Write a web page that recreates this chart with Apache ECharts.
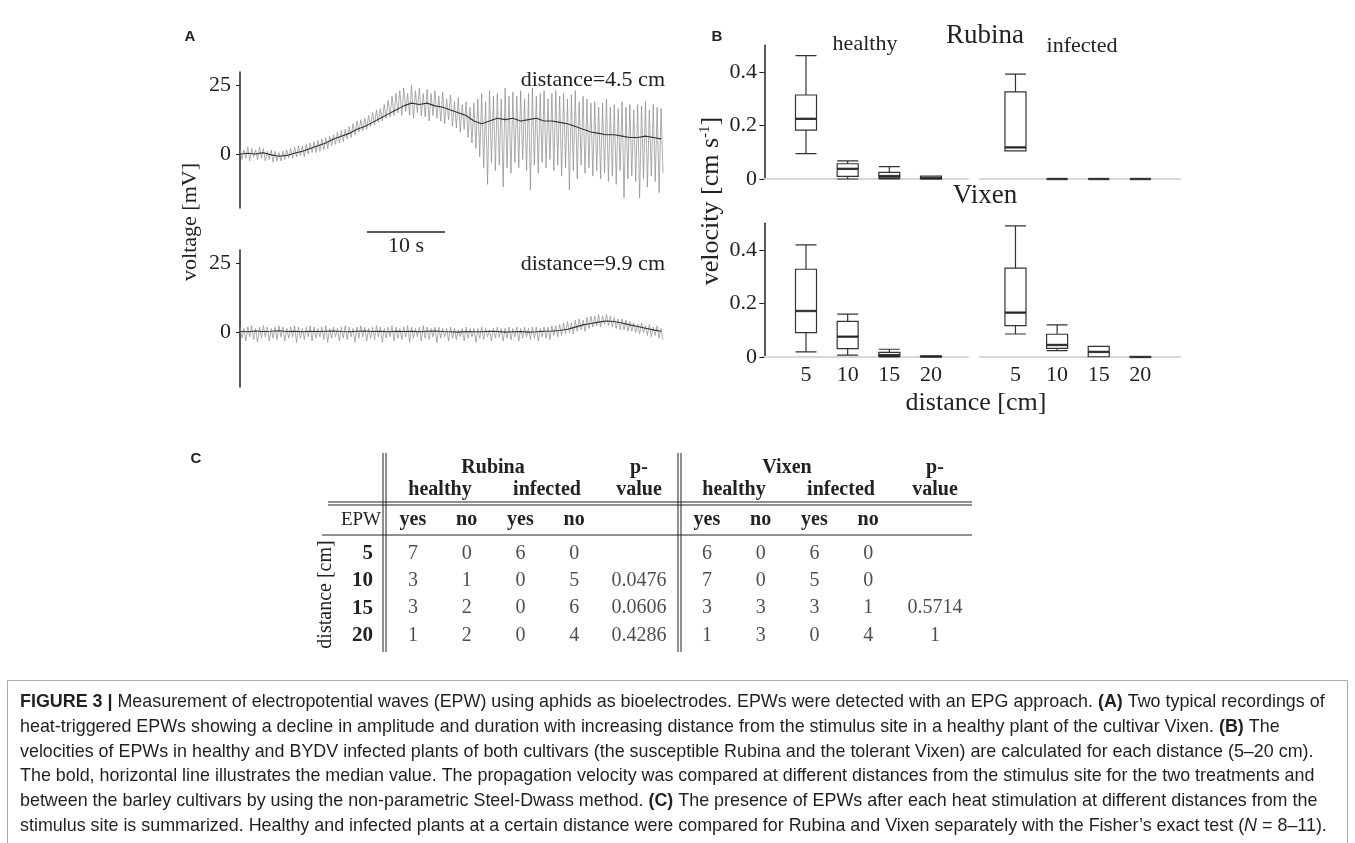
<!DOCTYPE html>
<html>
<head>
<meta charset="utf-8">
<script src="https://cdn.jsdelivr.net/npm/echarts@6/dist/echarts.min.js"></script>
<style>
html, body { margin: 0; padding: 0; background: #fff; }
#fig { width: 1355px; height: 843px; }
</style>
</head>
<body>
<div id="fig"></div>
<script>
// ---- panel A : two EPG recordings (mV), envelope read every 0.5 s, core every 1 s
const traceStep = 0.5;
const coreStep = 1;
const voltTicks = [0, 25];
const topHi = [2,1.5,2.5,2,1.5,2.5,2,1,1.5,1,0.5,
  1,1.5,2,2.5,3,3,3.5,4,4.5,5,
  5.5,6,6.5,7,8,8.5,9,10,11,12,
  12.5,13,14,15,16,16.5,18,19.5,21,22,
  23,24,22,25,23,24,22,23.5,22,23,
  21,22.5,20,21.5,19,20.5,18,19,17,18.5,
  20,22,19,23,21,22,20,24,21,22.5,
  21,23,20,22,24,21,22,23,20,22,
  23,21,22,20,21.5,23,19,21,20,18.5,
  19,17,18.5,20,17,18,16.5,19,17,18,
  16,18,17.5,19,16,18,17,16.5];
const topLo = [-2,-1.5,-2.5,-1,-2,-1.5,-2.5,-2,-3,-2.5,-2.5,
  -2,-1.5,-1.5,-1,-0.5,-1,0,0.5,0.5,1,
  1.5,2,3,3.5,4,4.5,5.5,6,7,8,
  8.5,9,10,10.5,11.5,12,13,13.5,14,15,
  14,15.5,14,13,15,14,13.5,12,14,13,
  12,11,12.5,10,9.5,8,9,6,4,2,
  -1,-5,-11,-3,-6,-4,-12,-5,-7,-3,
  -5,-2,-6,-13,-4,-7,-3,-5,-2,-6,
  -4,-8,-5,-13,-6,-9,-4,-7,-5,-8,
  -6,-9,-7,-10,-8,-11,-6,-16,-9,-8,
  -10,-16,-9,-12,-8,-10,-14,-7];
const topMid = [0,0.3,0,0.5,-0.3,-0.8,-0.5,0.3,1,2,3,
  4,5.5,6.5,7.5,9,10,11.5,13,14.5,16,
  17.5,18.5,18,18.5,17.5,17,16,15,14,12,
  11,12,13,12.5,13,12,12.5,13,12,12,
  11.5,11,10,9,8,7.5,7,7,6.5,6,
  6,6.5,6,5.5];
const botHi = [2,1.5,2,2.5,1.5,2,2.5,2,1.5,2,2.5,
  2,1.5,2,2.5,2,1.5,2,2.5,2,1.5,
  2,2.5,1.5,2,1.5,2,2.5,2,1.5,2,
  2.5,2,1.5,2,2.5,2,1.5,2,2.5,2,
  1.5,2,2.5,2,1.5,2,2.5,2,1.5,2,
  2,1.5,1.5,2,1.5,1,1.5,2,1.5,1.5,
  1.5,2,1.5,1,1.5,2,1.5,1.5,2,1.5,
  2,1.5,2,1.5,2,2,1.5,2,2,2.5,
  2.5,3,3.5,4,3.5,4.5,5,4.5,5.5,6,
  6,6.5,6,6.5,6,5.5,5,5,4.5,4,
  3.5,3,3.5,2.5,3,2,2.5,1.5];
const botLo = [-2,-3,-1.5,-2.5,-3.5,-2,-1.5,-3,-2,-2.5,-1.5,
  -3,-2,-1.5,-3.5,-2,-2.5,-1.5,-3,-2,-1.5,
  -2.5,-3.5,-2,-1.5,-3,-2,-2.5,-1.5,-3.5,-2,
  -1.5,-3,-2,-2.5,-1.5,-3.5,-2,-1.5,-3,-2,
  -2.5,-1.5,-3.5,-2,-1.5,-3,-2,-2.5,-1.5,-3.5,
  -2,-1.5,-3,-2,-2.5,-1.5,-3,-2,-1.5,-3.5,
  -2,-2.5,-1.5,-3,-2,-1.5,-3,-2,-2.5,-1.5,
  -3,-2,-1.5,-2.5,-2,-3,-1.5,-2,-2.5,-1,
  -1.5,-1,-0.5,0,-0.5,0.5,1,0.5,1.5,2,
  2.5,2,3,2.5,2,1.5,1,1,0.5,0.5,
  0,-0.5,0,-1,-1.5,-1,-2,-2.5];
const botMid = [0.5,0.3,0.6,0.4,0.5,0.7,0.4,0.5,0.3,0.5,0.4,
  0.5,0.6,0.4,0.3,0.5,0.6,0.4,0.5,0.3,0.5,
  0.4,0.5,0.3,0.5,0.6,0.4,0.3,0.2,0.4,0.3,
  0.3,0.5,0.4,0.2,0.3,0.4,0.2,0.3,0.5,0.6,
  0.8,1.2,2,2.8,3.3,3.8,4.2,4,3.5,2.8,
  2.2,1.6,1,0.5];

// ---- panel B : velocity [cm/s], each box = [min, Q1, median, Q3, max]
const distances = [5, 10, 15, 20];
const velTicks = [0, 0.2, 0.4];
const rubinaHealthy = [[0.095,0.183,0.225,0.314,0.461],[0,0.010,0.038,0.057,0.068],[0,0.004,0.011,0.025,0.046],[0,0,0.003,0.011,0.011]];
const rubinaInfected = [[0.105,0.105,0.118,0.326,0.392],[0,0,0,0,0],[0,0,0,0,0],[0,0,0,0,0]];
const vixenHealthy = [[0.019,0.091,0.172,0.328,0.419],[0.007,0.031,0.076,0.133,0.160],[0,0.002,0.007,0.017,0.029],[0,0,0.002,0.003,0.003]];
const vixenInfected = [[0.086,0.117,0.166,0.332,0.49],[0.024,0.032,0.045,0.085,0.12],[0.001,0.001,0.019,0.040,0.040],[0,0,0,0.001,0.001]];

// ---- panel C : EPW yes/no counts
const epwCols = ['yes', 'no', 'yes', 'no'];
const distRows = ['5', '10', '15', '20'];
const rubinaCounts = [[7,0,6,0],[3,1,0,5],[3,2,0,6],[1,2,0,4]];
const rubinaP = ['', '0.0476', '0.0606', '0.4286'];
const vixenCounts = [[6,0,6,0],[7,0,5,0],[3,3,3,1],[1,3,0,4]];
const vixenP = ['', '', '0.5714', '1'];

const captionLines = [
  '{b|FIGURE 3 |} Measurement of electropotential waves (EPW) using aphids as bioelectrodes. EPWs were detected with an EPG approach. {b|(A)} Two typical recordings of',
  'heat-triggered EPWs showing a decline in amplitude and duration with increasing distance from the stimulus site in a healthy plant of the cultivar Vixen. {b|(B)} The',
  'velocities of EPWs in healthy and BYDV infected plants of both cultivars (the susceptible Rubina and the tolerant Vixen) are calculated for each distance (5\u201320 cm).',
  'The bold, horizontal line illustrates the median value. The propagation velocity was compared at different distances from the stimulus site for the two treatments and',
  'between the barley cultivars by using the non-parametric Steel-Dwass method. {b|(C)} The presence of EPWs after each heat stimulation at different distances from the',
  'stimulus site is summarized. Healthy and infected plants at a certain distance were compared for Rubina and Vixen separately with the Fisher\u2019s exact test ({i|N} = 8\u201311).'
];

const serif = 'Liberation Serif';
const sans = 'Liberation Sans';
const ink = '#222';

function trace(hi, lo) {
  const out = [];
  hi.forEach((v, i) => {
    out.push([i * traceStep, v]);
    out.push([i * traceStep + traceStep / 2, lo[i]]);
  });
  return out;
}
function core(mid) {
  return mid.map((v, i) => [i * coreStep, v]);
}
function boxes(arr) {
  return arr.map((d, i) => [distances[i]].concat(d));
}
function medians(arr) {
  return arr.map((d, i) => [distances[i], d[2]]);
}
function cells(counts) {
  const out = [];
  counts.forEach((row, r) => row.forEach((v, c) => out.push([c, r, v])));
  return out;
}
function pcells(p) {
  const out = [];
  p.forEach((v, r) => { if (v !== '') out.push([0, r, v]); });
  return out;
}

const chart = echarts.init(document.getElementById('fig'), null, { renderer: 'canvas' });

const voltY = () => ({
  type: 'value', min: -19.6, max: 29.8,
  axisLine: { show: true, lineStyle: { color: ink, width: 1.5 } },
  axisTick: { show: true, length: 4, customValues: voltTicks, lineStyle: { color: ink } },
  axisLabel: { customValues: voltTicks, fontFamily: serif, fontSize: 22, color: ink, margin: 9 },
  splitLine: { show: false }
});
const velY = (show) => ({
  type: 'value', min: 0, max: 0.5, show: show,
  axisLine: { show: true, lineStyle: { color: ink, width: 1.5 } },
  axisTick: { show: true, length: 5, customValues: velTicks, lineStyle: { color: ink } },
  axisLabel: { customValues: velTicks, fontFamily: serif, fontSize: 22, color: ink, margin: 6 },
  splitLine: { show: false }
});
const distX = (min, max, labels) => ({
  type: 'value', min: min, max: max,
  axisLine: { show: true, onZero: false, lineStyle: { color: '#d8d8d8', width: 2 } },
  axisTick: { show: false },
  axisLabel: { show: labels, customValues: distances, fontFamily: serif, fontSize: 22, color: ink, margin: 7 },
  splitLine: { show: false }
});
const tableX = (cols, show) => ({
  type: 'category', data: cols, position: 'top', show: show,
  axisLine: { show: false }, axisTick: { show: false },
  axisLabel: { interval: 0, fontFamily: serif, fontWeight: 'bold', fontSize: 20, color: ink, margin: 10 }
});
const tableY = (show) => ({
  type: 'category', data: distRows, inverse: true, show: show,
  axisLine: { show: false }, axisTick: { show: false },
  axisLabel: { interval: 0, fontFamily: serif, fontWeight: 'bold', fontSize: 21, color: ink, margin: 13 },
  name: 'distance [cm]', nameLocation: 'middle', nameRotate: 90, nameGap: 50,
  nameTextStyle: { fontFamily: serif, fontSize: 20, color: ink }
});

const boxStyle = { color: '#fff', borderColor: '#333', borderWidth: 1.2 };
const boxSeries = (data, i) => ([
  { type: 'boxplot', xAxisIndex: i, yAxisIndex: i, data: boxes(data), boxWidth: [21, 21],
    itemStyle: boxStyle, silent: true, animation: false },
  { type: 'scatter', xAxisIndex: i, yAxisIndex: i, data: medians(data), symbol: 'rect',
    symbolSize: [21, 2.4], itemStyle: { color: '#222' }, silent: true, animation: false }
]);
const cellLabel = { show: true, position: 'inside', formatter: p => p.data[2],
  fontFamily: serif, fontSize: 20, color: ink };
const cellSeries = (data, i) => ({
  type: 'scatter', xAxisIndex: i, yAxisIndex: i, data: data, symbolSize: 1,
  itemStyle: { color: 'rgba(0,0,0,0)' }, label: cellLabel, silent: true, animation: false
});

const txt = (x, y, text, size, opts) => Object.assign({
  type: 'text', x: x, y: y, silent: true,
  style: Object.assign({ text: text, fontFamily: serif, fontSize: size, fill: ink,
    align: 'center', verticalAlign: 'middle' }, (opts && opts.style) || {})
}, opts && opts.el ? opts.el : {});
const hline = (x1, x2, y, w, c) => ({ type: 'line', silent: true,
  shape: { x1: x1, y1: y, x2: x2, y2: y }, style: { stroke: c || ink, lineWidth: w || 1 } });
const vline = (x, y1, y2, w, c) => ({ type: 'line', silent: true,
  shape: { x1: x, y1: y1, x2: x, y2: y2 }, style: { stroke: c || ink, lineWidth: w || 1 } });
const bold = { style: { fontWeight: 'bold' } };
const letter = { style: { fontFamily: sans, fontWeight: 'bold' } };

const graphics = [
  // panel letters
  txt(190, 37, 'A', 15, letter),
  txt(717, 37, 'B', 15, letter),
  txt(196, 459, 'C', 15, letter),
  // panel A annotations
  txt(665, 80, 'distance=4.5 cm', 22, { style: { align: 'right' } }),
  txt(665, 264, 'distance=9.9 cm', 22, { style: { align: 'right' } }),
  hline(367, 445, 232, 1.6),
  txt(406, 246, '10 s', 22),
  txt(190, 222, 'voltage [mV]', 22, { el: { rotation: Math.PI / 2 } }),
  // panel B annotations
  txt(865, 44, 'healthy', 22),
  txt(1082, 46, 'infected', 22),
  txt(985, 36, 'Rubina', 27),
  txt(985, 196, 'Vixen', 27),
  txt(976, 403, 'distance [cm]', 26),
  { type: 'text', x: 711, y: 201, rotation: Math.PI / 2, silent: true,
    style: { text: 'velocity [cm s{sup|-1}]', fontFamily: serif, fontSize: 26, fill: ink,
      align: 'center', verticalAlign: 'middle',
      rich: { sup: { fontFamily: serif, fontSize: 15, fill: ink, verticalAlign: 'top', padding: [0, 0, 12, 0] } } } },
  // panel C table frame
  vline(383, 453, 652), vline(386, 453, 652),
  vline(678, 453, 652), vline(681, 453, 652),
  hline(328, 972, 502), hline(328, 972, 505),
  hline(322, 972, 535),
  txt(493, 468, 'Rubina', 20, bold),
  txt(440, 490, 'healthy', 20, bold),
  txt(547, 490, 'infected', 20, bold),
  txt(639, 468, 'p-', 20, bold),
  txt(639, 490, 'value', 20, bold),
  txt(787, 468, 'Vixen', 20, bold),
  txt(734, 490, 'healthy', 20, bold),
  txt(841, 490, 'infected', 20, bold),
  txt(935, 468, 'p-', 20, bold),
  txt(935, 490, 'value', 20, bold),
  txt(381, 520, 'EPW', 19, { style: { align: 'right' } }),
  // caption box
  { type: 'rect', silent: true, shape: { x: 7.5, y: 680.5, width: 1340, height: 200 },
    style: { fill: 'none', stroke: '#aaa', lineWidth: 1 } }
];
const capFont = 17.9;
captionLines.forEach((line, i) => {
  graphics.push({
    type: 'text', x: 20, y: 702 + i * 24.8, silent: true,
    style: { text: line, fontFamily: sans, fontSize: capFont,
      fill: '#231f20', align: 'left', verticalAlign: 'middle',
      rich: { b: { fontFamily: sans, fontSize: capFont, fontWeight: 'bold', fill: '#231f20' },
              i: { fontFamily: sans, fontSize: capFont, fontStyle: 'italic', fill: '#231f20' } } }
  });
});

chart.setOption({
  backgroundColor: '#fff',
  animation: false,
  grid: [
    { left: 240, top: 72, width: 423, height: 136 },
    { left: 240, top: 250, width: 423, height: 137 },
    { left: 763, top: 45.25, width: 205, height: 133.75 },
    { left: 980, top: 45.25, width: 200, height: 133.75 },
    { left: 763, top: 223.25, width: 205, height: 133.75 },
    { left: 980, top: 223.25, width: 200, height: 133.75 },
    { left: 386, top: 540, width: 215, height: 109 },
    { left: 610, top: 540, width: 58, height: 109 },
    { left: 680, top: 540, width: 215, height: 109 },
    { left: 906, top: 540, width: 58, height: 109 }
  ],
  xAxis: [
    { type: 'value', min: 0, max: 54.25, show: false, gridIndex: 0 },
    { type: 'value', min: 0, max: 54.25, show: false, gridIndex: 1 },
    Object.assign(distX(-0.16, 24.44, false), { gridIndex: 2 }),
    Object.assign(distX(0.74, 24.76, false), { gridIndex: 3 }),
    Object.assign(distX(-0.16, 24.44, true), { gridIndex: 4 }),
    Object.assign(distX(0.74, 24.76, true), { gridIndex: 5 }),
    Object.assign(tableX(epwCols, true), { gridIndex: 6 }),
    Object.assign(tableX(['p'], false), { gridIndex: 7 }),
    Object.assign(tableX(epwCols, true), { gridIndex: 8 }),
    Object.assign(tableX(['p'], false), { gridIndex: 9 })
  ],
  yAxis: [
    Object.assign(voltY(), { gridIndex: 0 }),
    Object.assign(voltY(), { gridIndex: 1 }),
    Object.assign(velY(true), { gridIndex: 2 }),
    Object.assign(velY(false), { gridIndex: 3 }),
    Object.assign(velY(true), { gridIndex: 4 }),
    Object.assign(velY(false), { gridIndex: 5 }),
    Object.assign(tableY(true), { gridIndex: 6 }),
    Object.assign(tableY(false), { gridIndex: 7 }),
    Object.assign(tableY(false), { gridIndex: 8 }),
    Object.assign(tableY(false), { gridIndex: 9 })
  ],
  series: [
    { type: 'line', xAxisIndex: 0, yAxisIndex: 0, data: trace(topHi, topLo), showSymbol: false,
      lineStyle: { color: '#8a8a8a', width: 0.7 }, silent: true },
    { type: 'line', xAxisIndex: 0, yAxisIndex: 0, data: core(topMid), showSymbol: false,
      lineStyle: { color: '#333', width: 1.1 }, silent: true },
    { type: 'line', xAxisIndex: 1, yAxisIndex: 1, data: trace(botHi, botLo), showSymbol: false,
      lineStyle: { color: '#8a8a8a', width: 0.7 }, silent: true },
    { type: 'line', xAxisIndex: 1, yAxisIndex: 1, data: core(botMid), showSymbol: false,
      lineStyle: { color: '#333', width: 1.1 }, silent: true },
    ...boxSeries(rubinaHealthy, 2),
    ...boxSeries(rubinaInfected, 3),
    ...boxSeries(vixenHealthy, 4),
    ...boxSeries(vixenInfected, 5),
    cellSeries(cells(rubinaCounts), 6),
    cellSeries(pcells(rubinaP), 7),
    cellSeries(cells(vixenCounts), 8),
    cellSeries(pcells(vixenP), 9)
  ],
  graphic: graphics
});
</script>
</body>
</html>
